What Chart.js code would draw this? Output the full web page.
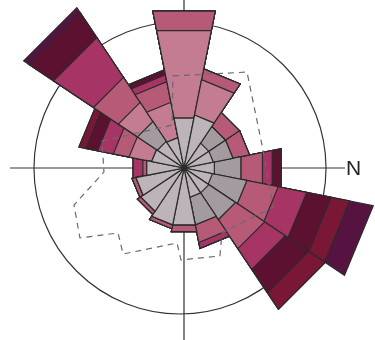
<!DOCTYPE html>
<html>
<head>
<meta charset="utf-8">
<script src="https://cdn.jsdelivr.net/npm/chart.js@4"></script>
<style>
  html, body { margin: 0; padding: 0; background: #fff; }
  #wrap { width: 375px; height: 340px; position: relative; }
</style>
</head>
<body>
<div id="wrap"><canvas id="roseCanvas"></canvas></div>
<script>
// 16 direction sectors, clockwise on screen starting at "N" (pointing right)
const directions = ['N', 'NNE', 'NE', 'ENE', 'E', 'ESE', 'SE', 'SSE',
                    'S', 'SSW', 'SW', 'WSW', 'W', 'WNW', 'NW', 'NNW'];

// speed classes, inner to outer (values per sector, circle = 100)
const class1 = [21.2, 19.9, 20.5, 20.5, 39.7, 39.7, 35.6, 33.6, 26.0, 22.6, 21.9, 21.2, 34.9, 37.0, 20.5, 20.5];
const class2 = [18.5, 24.0, 21.9, 19.2, 0, 0, 0, 0, 0, 0, 16.4, 0, 0, 0, 13.7, 13.7];
const class3 = [0, 0, 0, 0, 0, 0, 0, 0, 0, 15.8, 15.8, 24.7, 61.0, 24.7, 0, 0];
const class4 = [15.1, 21.9, 24.0, 12.3, 4.8, 2.7, 2.7, 2.7, 2.7, 11.0, 20.5, 14.4, 13.7, 7.5, 11.6, 11.6];
const class5 = [6.8, 19.9, 17.1, 4.1, 0, 0, 0, 0, 6.8, 11.0, 32.9, 4.8, 0, 0, 0, 0];
const class6 = [6.2, 17.1, 19.2, 0, 0, 0, 0, 0, 0, 8.2, 20.5, 3.4, 0, 0, 0, 0];
const class7 = [0, 13.0, 13.7, 0, 0, 0, 0, 0, 0, 4.8, 0, 0, 0, 0, 0, 0];
const class8 = [0, 16.4, 0, 0, 0, 0, 0, 0, 0, 0, 4.1, 0, 0, 0, 0, 0];

const classColors = ['#bcb4b8', '#a39b9f', '#c47c92', '#b65a78', '#a63465', '#5d1130', '#7a1636', '#561342'];

// dashed outline: vertex angles (deg, clockwise from N) and radii (same units)
const outlineAngles = [263.2, 303.3, 343.6, 23.7, 59.7, 67.8, 91.9, 95.3, 125.3, 135.4, 146.1, 161.4, 177.1, 198.2, 254.4];
const outlineValues = [63.5, 78.6, 55.7, 66.6, 51.6, 65.1, 63.0, 51.6, 72.2, 63.4, 85.9, 79.5, 54.9, 59.1, 30.5];

const circleValue = 100;
const scaleMax = 115.07;

// build cumulative stacks (polarArea does not stack by itself)
const classes = [class1, class2, class3, class4, class5, class6, class7, class8];
const running = new Array(directions.length).fill(0);
const datasets = classes.map((vals, i) => {
  const cum = vals.map((v, j) => {
    running[j] += v;
    return +running[j].toFixed(2);
  });
  return {
    data: cum,
    backgroundColor: classColors[i],
    borderColor: '#2b2b2b',
    borderWidth: 1.2,
    clip: false
  };
});

const rosePlugin = {
  id: 'rose',
  beforeDatasetsDraw(chart) {
    const r = chart.scales.r;
    const ctx = chart.ctx;
    const cx = r.xCenter, cy = r.yCenter;
    ctx.save();
    ctx.strokeStyle = '#333';
    ctx.lineWidth = 1.2;
    // reference ring
    ctx.beginPath();
    ctx.arc(cx - 4, cy, r.getDistanceFromCenterForValue(circleValue), 0, Math.PI * 2);
    ctx.stroke();
    // axis cross
    ctx.beginPath();
    ctx.moveTo(10, cy);
    ctx.lineTo(345, cy);
    ctx.moveTo(cx, 0);
    ctx.lineTo(cx, chart.height);
    ctx.stroke();
    ctx.fillStyle = '#222';
    ctx.font = '21px "Liberation Sans", Arial, sans-serif';
    ctx.textAlign = 'left';
    ctx.textBaseline = 'middle';
    ctx.fillText('N', 346, cy + 1);
    ctx.restore();
  },
  // draw each sector piece with a straight outer edge
  beforeDatasetDraw(chart, args) {
    const ctx = chart.ctx;
    ctx.save();
    ctx.lineJoin = 'miter';
    args.meta.data.forEach(el => {
      const o = el.options;
      const rad = el.outerRadius;
      if (!rad) return;
      ctx.beginPath();
      ctx.moveTo(el.x, el.y);
      ctx.lineTo(el.x + Math.cos(el.startAngle) * rad, el.y + Math.sin(el.startAngle) * rad);
      ctx.lineTo(el.x + Math.cos(el.endAngle) * rad, el.y + Math.sin(el.endAngle) * rad);
      ctx.closePath();
      ctx.fillStyle = o.backgroundColor;
      ctx.fill();
      ctx.strokeStyle = o.borderColor;
      ctx.lineWidth = o.borderWidth;
      ctx.stroke();
    });
    ctx.restore();
    return false;
  },
  afterDatasetsDraw(chart) {
    const r = chart.scales.r;
    const ctx = chart.ctx;
    ctx.save();
    ctx.strokeStyle = '#6b6b6b';
    ctx.lineWidth = 1.2;
    ctx.setLineDash([6, 5]);
    ctx.beginPath();
    outlineAngles.forEach((a, i) => {
      const d = r.getDistanceFromCenterForValue(outlineValues[i]);
      const rad = a * Math.PI / 180;
      const x = r.xCenter + Math.cos(rad) * d;
      const y = r.yCenter + Math.sin(rad) * d;
      if (i === 0) ctx.moveTo(x, y); else ctx.lineTo(x, y);
    });
    ctx.closePath();
    ctx.stroke();
    ctx.restore();
  }
};

new Chart(document.getElementById('roseCanvas'), {
  type: 'polarArea',
  data: {
    labels: directions,
    datasets: datasets
  },
  options: {
    responsive: true,
    maintainAspectRatio: false,
    animation: false,
    layout: { padding: { left: 0, top: 0, right: 7, bottom: 4 } },
    plugins: {
      legend: { display: false },
      tooltip: { enabled: false }
    },
    scales: {
      r: {
        min: 0,
        max: scaleMax,
        startAngle: 78.75,
        ticks: { display: false, stepSize: circleValue },
        grid: { display: false },
        angleLines: { display: false },
        pointLabels: { display: false }
      }
    }
  },
  plugins: [rosePlugin]
});
</script>
</body>
</html>
